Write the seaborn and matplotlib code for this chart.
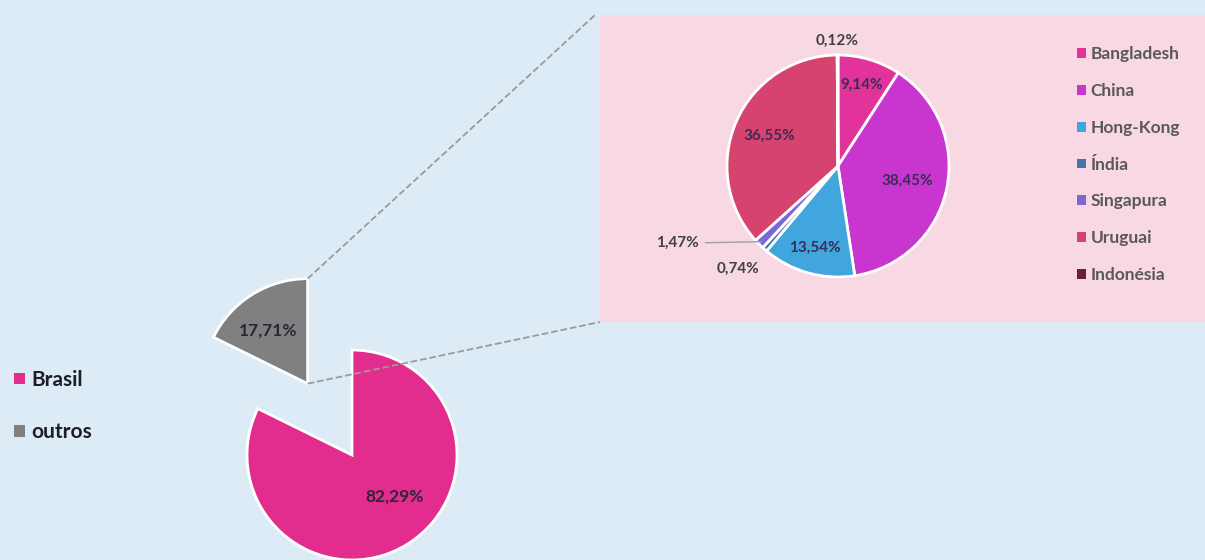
import numpy as np
import matplotlib.pyplot as plt
from matplotlib.patches import Rectangle
import seaborn as sns

# dados
origem = ['Brasil', 'outros']
origem_pct = [82.29, 17.71]

paises = ['Bangladesh', 'China', 'Hong-Kong', 'Índia', 'Singapura', 'Uruguai', 'Indonésia']
paises_pct = [9.14, 38.45, 13.54, 0.74, 1.47, 36.55, 0.12]

# estilo
cores_origem = ['#E22D8E', '#808080']
cores_paises = ['#E2339B', '#C936CF', '#41A5DE', '#4A72A8', '#7B68D6', '#D5436E', '#6B1F3F']
fundo = '#DDEBF6'
painel = '#F8D9E3'

sns.set_theme(style='white')
plt.rcParams['font.family'] = ['Lato', 'DejaVu Sans']


def fmt(v):
    return f'{v:.2f}'.replace('.', ',') + '%'


def polar(w, frac, shift=0.0):
    ang = np.deg2rad((w.theta1 + w.theta2) / 2 + shift)
    cx, cy = w.center
    return cx + frac * w.r * np.cos(ang), cy + frac * w.r * np.sin(ang)


fig = plt.figure(figsize=(12.05, 5.6), dpi=100, facecolor=fundo)
ax = fig.add_axes([0, 0, 1, 1])
ax.set_facecolor(fundo)
ax.axis('off')

# painel rosa atrás da pizza de detalhe
px0, py0, pw, ph = 600, 238, 605, 307
ax.add_patch(Rectangle((px0, py0), pw, ph, facecolor=painel, edgecolor='none', zorder=0))

# pizza principal ("outros" destacado)
r_orig = 105
w_orig, _ = ax.pie(origem_pct, colors=cores_origem, startangle=90, counterclock=False,
                   explode=[0, 0.8 * r_orig], center=(352, 105), radius=r_orig,
                   wedgeprops=dict(edgecolor='white', linewidth=2), frame=True)
lab_orig = [(0.57, 14), (0.63, 5)]
for w, v, (fr, sh) in zip(w_orig, origem_pct, lab_orig):
    x, y = polar(w, fr, sh)
    ax.text(x, y, fmt(v), ha='center', va='center', fontsize=12.5,
            fontweight='bold', color='#2E2438', zorder=5)

# linhas tracejadas ligando "outros" ao painel
g = w_orig[1]
gx, gy = g.center
ax.plot([gx, px0 - 5], [gy + g.r, py0 + ph], ls='--', color='#9A9A9A', lw=1.3, zorder=4)
ax.plot([gx, px0], [gy, py0], ls='--', color='#9A9A9A', lw=1.3, zorder=4)

# pizza de detalhe
w_pais, _ = ax.pie(paises_pct, colors=cores_paises, startangle=90, counterclock=False,
                   center=(838, 394), radius=111,
                   wedgeprops=dict(edgecolor='white', linewidth=2), frame=True)
lab_pais = [(0.76, 0), (0.64, 0), (0.77, 0), (1.29, -3), (1.6, -19), (0.68, 0), (1.13, 0)]
for i, (w, v, (fr, sh)) in enumerate(zip(w_pais, paises_pct, lab_pais)):
    x, y = polar(w, fr, sh)
    cor = '#3A2C55' if fr < 1 else '#404040'
    if paises[i] == 'Singapura':
        ax.annotate(fmt(v), xy=polar(w, 0.97), xytext=(x, y), ha='center', va='center',
                    fontsize=11, fontweight='bold', color=cor, zorder=5,
                    arrowprops=dict(arrowstyle='-', color='#A0A0A0', lw=1,
                                    relpos=(1, 0.5), shrinkA=2, shrinkB=0))
    else:
        ax.text(x, y, fmt(v), ha='center', va='center', fontsize=11,
                fontweight='bold', color=cor, zorder=5)

ax.set_xlim(0, 1205)
ax.set_ylim(0, 560)
ax.set_aspect('auto')

# legendas
leg1 = ax.legend(w_orig, origem, loc='center left', bbox_to_anchor=(0.005, 0.275),
                 frameon=False, fontsize=15, handlelength=0.5, handleheight=0.5,
                 handletextpad=0.3, labelspacing=1.55, borderaxespad=0)
for t in leg1.get_texts():
    t.set_fontweight('bold')
    t.set_color('#1E1E2A')
ax.add_artist(leg1)

leg2 = ax.legend(w_pais, paises, loc='center left', bbox_to_anchor=(0.888, 0.706),
                 frameon=False, fontsize=12.5, handlelength=0.5, handleheight=0.5,
                 handletextpad=0.3, labelspacing=1.2, borderaxespad=0)
for t in leg2.get_texts():
    t.set_fontweight('bold')
    t.set_color('#595959')
for h in leg2.legend_handles + leg1.legend_handles:
    h.set_edgecolor('none')

fig.savefig('out.png', dpi=100, facecolor=fundo)
